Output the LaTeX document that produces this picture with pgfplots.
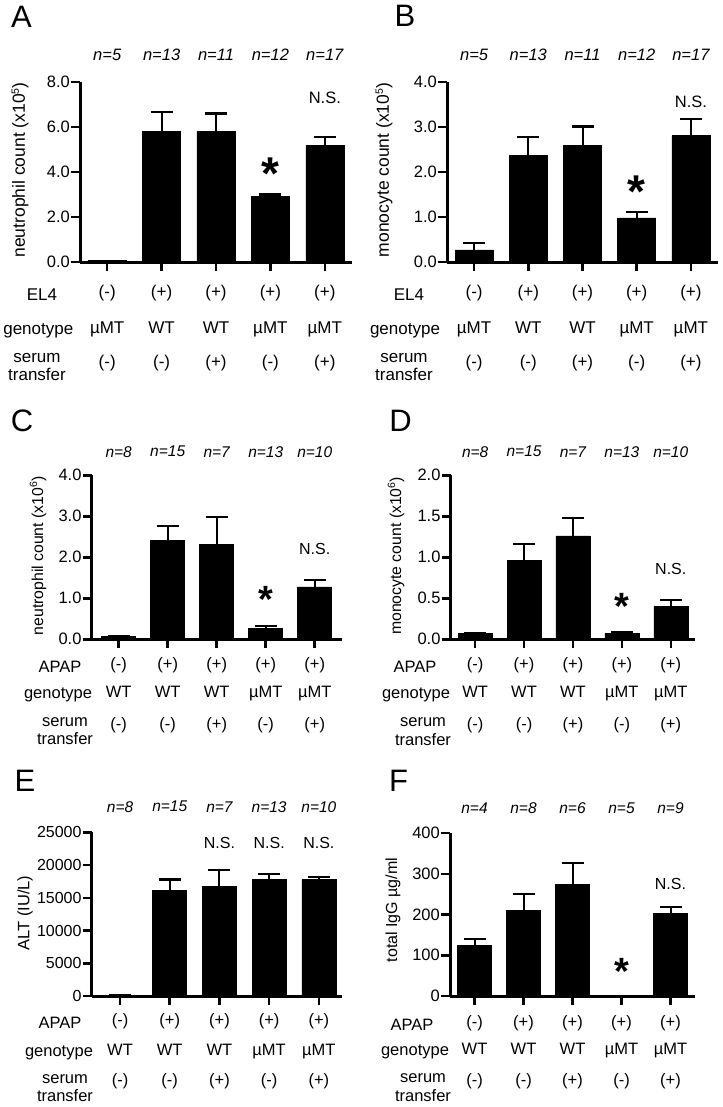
\documentclass[border=0pt]{standalone}
\usepackage{fontspec}
\setmainfont{Liberation Sans}
\usepackage{pgfplots}
\pgfplotsset{compat=1.18}

\newcommand{\fs}[1]{\fontsize{#1}{#1}\selectfont}

\pgfplotsset{
 panel/.style={
  scale only axis, anchor=south west, clip=false,
  axis lines*=left,
  axis line style={line width=3pt, black},
  tick align=outside, major tick length=9pt,
  tick style={line width=2.5pt, black},
  xtick={0,1,2,3,4}, xticklabel=\empty,
  ymin=0,
  scaled y ticks=false,
  ybar, bar width=#1,
  /pgf/number format/assume math mode=true,
  /pgf/number format/1000 sep={},
  yticklabel style={inner sep=1pt},
 },
 bars/.style={fill=black, draw=black, line width=0.5pt,
   error bars/.cd, y dir=plus, y explicit,
   error bar style={line width=2pt, black},
   error mark options={line width=2.2pt, mark size=11pt, black, rotate=90}},
 dec/.style={yticklabel style={/pgf/number format/fixed, /pgf/number format/fixed zerofill, /pgf/number format/precision=1}},
}
\tikzset{sigstar/.style={font=\fs{#1}\bfseries, anchor=north, inner sep=0pt},
  rv/.style={font=\fs{#1}, text height=0.72em, text depth=0.21em}}

\newcommand{\rowv}[7]{%
 \node[rv=#7] at ([yshift=-#1]axis cs:0,0) {#2};
 \node[rv=#7] at ([yshift=-#1]axis cs:1,0) {#3};
 \node[rv=#7] at ([yshift=-#1]axis cs:2,0) {#4};
 \node[rv=#7] at ([yshift=-#1]axis cs:3,0) {#5};
 \node[rv=#7] at ([yshift=-#1]axis cs:4,0) {#6};
}
\newcommand{\nrow}[7]{%
 \node[font=\fs{#7}\itshape] at ([yshift=#1]axis cs:0,0) {#2};
 \node[font=\fs{#7}\itshape] at ([yshift=#1]axis cs:1,0) {#3};
 \node[font=\fs{#7}\itshape] at ([yshift=#1]axis cs:2,0) {#4};
 \node[font=\fs{#7}\itshape] at ([yshift=#1]axis cs:3,0) {#5};
 \node[font=\fs{#7}\itshape] at ([yshift=#1]axis cs:4,0) {#6};
}
\newcommand{\supr}[1]{\raisebox{6pt}{\fs{10.5}#1}}

\begin{document}
\begin{tikzpicture}
\useasboundingbox (0,0) rectangle (722pt,-1107pt);

% ---------------- A
\begin{axis}[panel=38pt, dec, at={(80pt,-262pt)}, width=272pt, height=180pt,
  xmin=-0.5, xmax=4.5, ymax=8, ytick={0,2,4,6,8},
  yticklabel style={font=\fs{16.5}}]
\addplot[bars] coordinates {(0,0.06) +- (0,0) (1,5.79) +- (0,0.86) (2,5.79) +- (0,0.81) (3,2.91) +- (0,0.09) (4,5.17) +- (0,0.38)};
\nrow{207pt}{n=5}{n=13}{n=11}{n=12}{n=17}{16.5}
\node[font=\fs{16.5}] at ([yshift=164pt]axis cs:4,0) {N.S.};
\node[sigstar=46] at ([yshift=104.6pt]axis cs:3,0) {*};
\rowv{32.5pt}{(-)}{(+)}{(+)}{(+)}{(+)}{17}
\rowv{68.5pt}{µMT}{WT}{WT}{µMT}{µMT}{17}
\rowv{103pt}{(-)}{(-)}{(+)}{(-)}{(+)}{17}
\end{axis}

% ---------------- B
\begin{axis}[panel=38pt, dec, at={(447pt,-262pt)}, width=271pt, height=180pt,
  xmin=-0.5, xmax=4.5, ymax=4, ytick={0,1,2,3,4},
  yticklabel style={font=\fs{16.5}}]
\addplot[bars] coordinates {(0,0.27) +- (0,0.15) (1,2.37) +- (0,0.41) (2,2.6) +- (0,0.41) (3,0.98) +- (0,0.13) (4,2.81) +- (0,0.37)};
\nrow{207pt}{n=5}{n=13}{n=11}{n=12}{n=17}{16.5}
\node[font=\fs{16.5}] at ([yshift=160pt]axis cs:4,0) {N.S.};
\node[sigstar=46] at ([yshift=86.3pt]axis cs:3,0) {*};
\rowv{32.5pt}{(-)}{(+)}{(+)}{(+)}{(+)}{17}
\rowv{68.5pt}{µMT}{WT}{WT}{µMT}{µMT}{17}
\rowv{103pt}{(-)}{(-)}{(+)}{(-)}{(+)}{17}
\end{axis}

% ---------------- C
\begin{axis}[panel=34pt, dec, at={(91.7pt,-639.3pt)}, width=250pt, height=164pt,
  xmin=-0.55, xmax=4.55, ymax=4, ytick={0,1,2,3,4},
  yticklabel style={font=\fs{16.5}}]
\addplot[bars] coordinates {(0,0.08) +- (0,0) (1,2.42) +- (0,0.34) (2,2.31) +- (0,0.67) (3,0.27) +- (0,0.05) (4,1.28) +- (0,0.17)};
\nrow{187.6pt}{n=8}{n=15}{n=7}{n=13}{n=10}{15.5}
\node[font=\fs{16}] at ([yshift=90pt]axis cs:4,0) {N.S.};
\node[sigstar=38] at ([yshift=52.9pt]axis cs:3,0) {*};
\rowv{27.4pt}{(-)}{(+)}{(+)}{(+)}{(+)}{16.5}
\rowv{55.7pt}{WT}{WT}{WT}{µMT}{µMT}{16.5}
\rowv{87.4pt}{(-)}{(-)}{(+)}{(-)}{(+)}{16.5}
\end{axis}

% ---------------- D
\begin{axis}[panel=34pt, dec, at={(450.7pt,-639.3pt)}, width=244.5pt, height=164pt,
  xmin=-0.5, xmax=4.5, ymax=2, ytick={0,0.5,1,1.5,2},
  yticklabel style={font=\fs{16.5}}]
\addplot[bars] coordinates {(0,0.075) +- (0,0) (1,0.96) +- (0,0.2) (2,1.26) +- (0,0.22) (3,0.075) +- (0,0.008) (4,0.40) +- (0,0.075)};
\nrow{187.6pt}{n=8}{n=15}{n=7}{n=13}{n=10}{15.5}
\node[font=\fs{16}] at ([yshift=70pt]axis cs:4,0) {N.S.};
\node[sigstar=38] at ([yshift=46.3pt]axis cs:3,0) {*};
\rowv{27.4pt}{(-)}{(+)}{(+)}{(+)}{(+)}{16.5}
\rowv{55.7pt}{WT}{WT}{WT}{µMT}{µMT}{16.5}
\rowv{87.4pt}{(-)}{(-)}{(+)}{(-)}{(+)}{16.5}
\end{axis}

% ---------------- E
\begin{axis}[panel=34pt, at={(91.7pt,-996pt)}, width=250pt, height=163.7pt,
  xmin=-0.57, xmax=4.46, ymax=25000, ytick={0,5000,10000,15000,20000,25000},
  yticklabel style={font=\fs{16}}]
\addplot[bars] coordinates {(0,150) +- (0,0) (1,16100) +- (0,1700) (2,16700) +- (0,2500) (3,17800) +- (0,800) (4,17800) +- (0,400)};
\nrow{189.3pt}{n=8}{n=15}{n=7}{n=13}{n=10}{15.5}
\node[font=\fs{16}] at ([yshift=153pt]axis cs:2,0) {N.S.};
\node[font=\fs{16}] at ([yshift=153pt]axis cs:3,0) {N.S.};
\node[font=\fs{16}] at ([yshift=153pt]axis cs:4,0) {N.S.};
\rowv{27.3pt}{(-)}{(+)}{(+)}{(+)}{(+)}{16.5}
\rowv{57.3pt}{WT}{WT}{WT}{µMT}{µMT}{16.5}
\rowv{87.3pt}{(-)}{(-)}{(+)}{(-)}{(+)}{16.5}
\end{axis}

% ---------------- F
\begin{axis}[panel=34pt, at={(450pt,-996pt)}, width=245pt, height=163pt,
  xmin=-0.5, xmax=4.5, ymax=400, ytick={0,100,200,300,400},
  yticklabel style={font=\fs{16.5}}]
\addplot[bars] coordinates {(0,125) +- (0,14) (1,210) +- (0,41) (2,274) +- (0,52) (3,0) +- (0,0) (4,202) +- (0,16)};
\nrow{187.7pt}{n=4}{n=8}{n=6}{n=5}{n=9}{15.5}
\node[font=\fs{16}] at ([yshift=112pt]axis cs:4,0) {N.S.};
\node[sigstar=38] at ([yshift=38.3pt]axis cs:3,0) {*};
\rowv{29pt}{(-)}{(+)}{(+)}{(+)}{(+)}{16.5}
\rowv{55.7pt}{WT}{WT}{WT}{µMT}{µMT}{16.5}
\rowv{87.3pt}{(-)}{(-)}{(+)}{(-)}{(+)}{16.5}
\end{axis}

% ---------------- panel letters
\node[font=\fs{31}] at (21.5pt,-17pt) {A};
\node[font=\fs{31}] at (405pt,-16pt) {B};
\node[font=\fs{31}] at (22pt,-421pt) {C};
\node[font=\fs{31}] at (400.5pt,-421pt) {D};
\node[font=\fs{31}] at (25pt,-781pt) {E};
\node[font=\fs{31}] at (398.5pt,-781pt) {F};

% ---------------- y labels
\node[rotate=90, font=\fs{17.5}] at (20pt,-170pt) {neutrophil count (x10\supr{5})};
\node[rotate=90, font=\fs{17.5}] at (384pt,-170pt) {monocyte count (x10\supr{5})};
\node[rotate=90, font=\fs{15.8}] at (38pt,-556pt) {neutrophil count (x10\supr{6})};
\node[rotate=90, font=\fs{15.8}] at (396pt,-556pt) {monocyte count (x10\supr{6})};
\node[rotate=90, font=\fs{16.5}] at (25pt,-913pt) {ALT (IU/L)};
\node[rotate=90, font=\fs{16}] at (393pt,-910pt) {total IgG µg/ml};

% ---------------- row names
\begin{scope}[every node/.style={font=\fontsize{17}{18.5}\selectfont, align=center}]
\node at (42pt,-294.7pt) {EL4};
\node at (38.3pt,-330.5pt) {genotype};
\node at (37pt,-367pt) {serum\\transfer};
\node at (409pt,-294.7pt) {EL4};
\node at (405pt,-330.5pt) {genotype};
\node at (404pt,-367pt) {serum\\transfer};
\end{scope}
\begin{scope}[every node/.style={font=\fontsize{16.5}{18.5}\selectfont, align=center}]
\node at (60pt,-666.7pt) {APAP};
\node at (58pt,-695pt) {genotype};
\node at (65pt,-731pt) {serum\\transfer};
\node at (415pt,-666.7pt) {APAP};
\node at (416pt,-695pt) {genotype};
\node at (423pt,-731.7pt) {serum\\transfer};
\node at (60pt,-1023.3pt) {APAP};
\node at (59pt,-1053.3pt) {genotype};
\node at (65pt,-1088.3pt) {serum\\transfer};
\node at (412pt,-1025pt) {APAP};
\node at (415pt,-1051.7pt) {genotype};
\node at (423pt,-1087.5pt) {serum\\transfer};
\end{scope}
\end{tikzpicture}
\end{document}
